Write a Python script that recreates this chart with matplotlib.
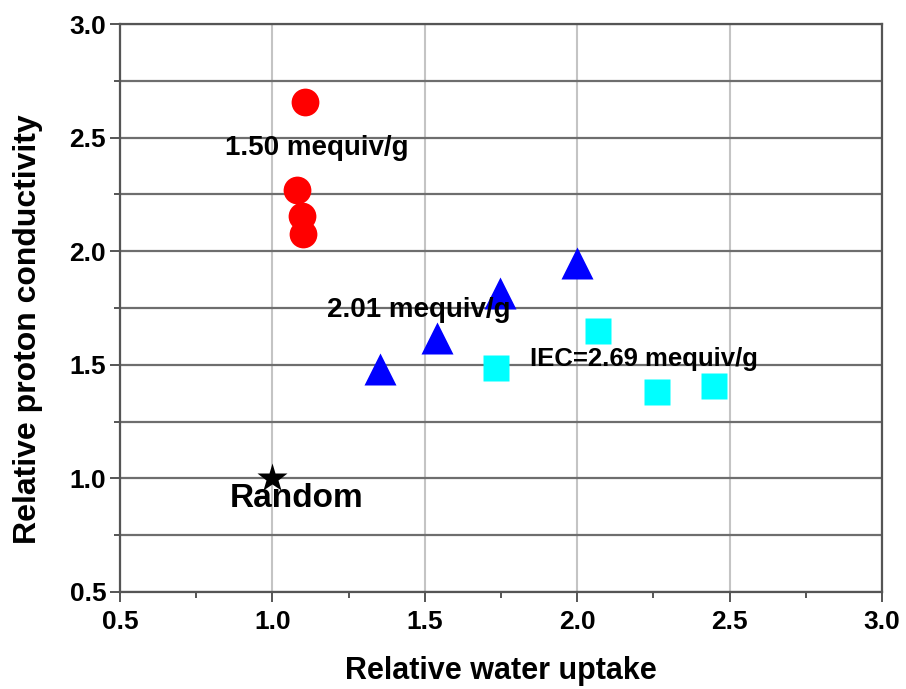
import numpy as np
import matplotlib
matplotlib.use("Agg")
import matplotlib.pyplot as plt
from matplotlib.ticker import MultipleLocator

plt.rcParams['font.family'] = ['Liberation Sans', 'DejaVu Sans']
plt.rcParams['font.weight'] = 'bold'

# IEC = 1.50 mequiv/g
wu_150 = [1.107, 1.08, 1.097, 1.10]
pc_150 = [2.656, 2.27, 2.155, 2.075]
# IEC = 2.01 mequiv/g
wu_201 = [1.353, 1.54, 1.747, 2.0]
pc_201 = [1.48, 1.62, 1.815, 1.947]
# IEC = 2.69 mequiv/g
wu_269 = [1.734, 2.068, 2.262, 2.449]
pc_269 = [1.485, 1.648, 1.379, 1.405]
# random copolymer reference
wu_rand = [1.0]
pc_rand = [1.0]

fig = plt.figure(figsize=(9.06, 6.89), dpi=100)
ax = fig.add_axes([0.1325, 0.1408, 0.841, 0.8242])

ax.set_xlim(0.5, 3.0)
ax.set_ylim(0.5, 3.0)
ax.xaxis.set_major_locator(MultipleLocator(0.5))
ax.xaxis.set_minor_locator(MultipleLocator(0.25))
ax.yaxis.set_major_locator(MultipleLocator(0.5))
ax.yaxis.set_minor_locator(MultipleLocator(0.25))

# grid: light vertical at majors, dark horizontal at every 0.25
ax.grid(True, axis='x', which='major', color='#c4c4c4', lw=1.5)
ax.grid(True, axis='y', which='both', color='#6e6e6e', lw=1.6)
ax.set_axisbelow(True)

for s in ax.spines.values():
    s.set_color('#555555')
    s.set_linewidth(1.6)

ax.tick_params(which='major', direction='out', length=7, width=1.4, color='#555555')
ax.tick_params(which='minor', direction='out', length=4, width=1.4, color='#555555')
ax.tick_params(axis='x', which='major', labelsize=19, pad=6)
ax.tick_params(axis='y', which='major', labelsize=19, pad=3)
ax.xaxis.set_major_formatter(plt.FuncFormatter(lambda v, p: f"{v:.1f}"))
ax.yaxis.set_major_formatter(plt.FuncFormatter(lambda v, p: f"{v:.1f}"))

ax.plot(wu_150, pc_150, 'o', color='red', ms=20, mec='none', ls='none')
ax.plot(wu_201, pc_201, '^', color='blue', ms=23, mec='none', ls='none')
ax.plot(wu_269, pc_269, 's', color='cyan', ms=19, mec='none', ls='none')
ax.plot(wu_rand, pc_rand, '*', color='black', ms=22, mec='none', ls='none')

ax.text(1.146, 2.454, "1.50 mequiv/g", fontsize=20, fontweight='bold',
        ha='center', va='center')
ax.text(1.18, 1.74, "2.01 mequiv/g", fontsize=20, fontweight='bold',
        ha='left', va='center')
ax.text(1.845, 1.524, "IEC=2.69 mequiv/g", fontsize=18.5, fontweight='bold',
        ha='left', va='center')
ax.text(0.86, 0.91, "Random", fontsize=24, fontweight='bold',
        ha='left', va='center')

ax.set_xlabel("Relative water uptake", fontsize=22, fontweight='bold', labelpad=16)
ax.set_ylabel("Relative proton conductivity", fontsize=23, fontweight='bold')
ax.yaxis.set_label_coords(-0.101, 0.462)

fig.savefig("out.png", dpi=100)
